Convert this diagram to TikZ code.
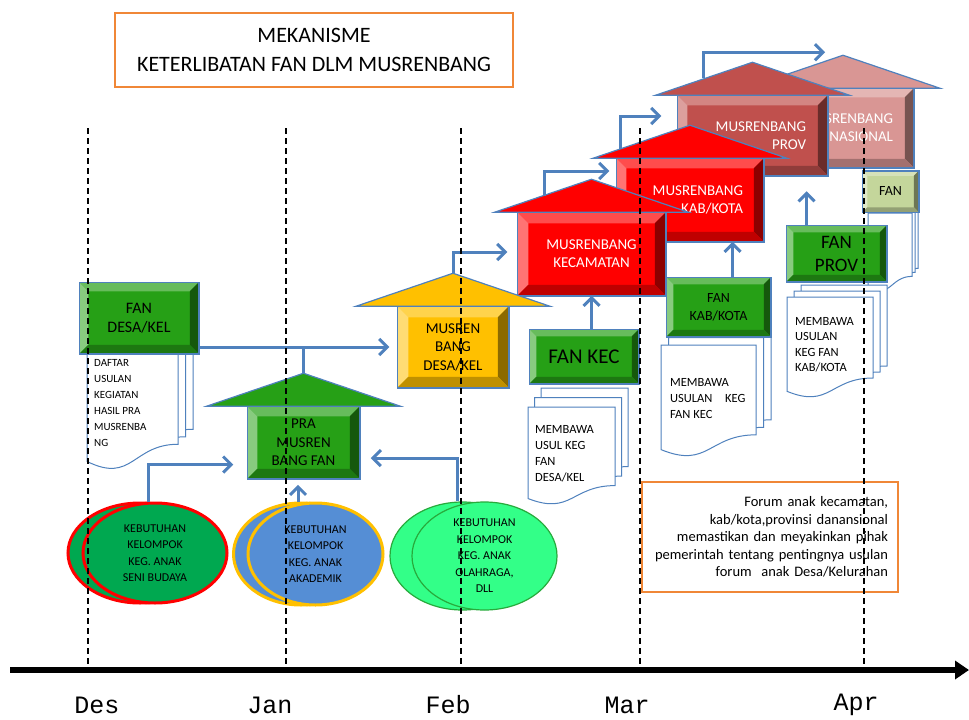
\documentclass[tikz,border=0pt]{standalone}
\usepackage{fontspec}
\setmainfont{Carlito}
\newfontfamily\monthfont{Liberation Mono}
\usetikzlibrary{calc,arrows.meta,shapes.geometric}
\definecolor{fangreen}{RGB}{38,160,22}
\definecolor{fanpale}{RGB}{196,214,155}
\definecolor{desagold}{RGB}{255,192,0}
\definecolor{kecred}{RGB}{255,0,0}
\definecolor{provred}{RGB}{192,80,77}
\definecolor{naspink}{RGB}{217,150,148}
\definecolor{edgeblue}{RGB}{79,129,189}
\definecolor{boxorange}{RGB}{240,135,55}
\definecolor{senigreen}{RGB}{0,168,80}
\definecolor{akadblue}{RGB}{85,142,213}
\definecolor{olahgreen}{RGB}{51,255,136}
\definecolor{olahedge}{RGB}{40,170,60}

\newcommand{\fsz}[2]{\fontsize{#1}{#2}\selectfont}
% bevel faces round a box node: node, colour, inset
\newcommand{\bevel}[3]{%
  \path (#1.north west) coordinate (o1) (#1.north east) coordinate (o2)
        (#1.south east) coordinate (o3) (#1.south west) coordinate (o4);
  \path ($(o1)+(#3,#3)$) coordinate (i1) ($(o2)+(-#3,#3)$) coordinate (i2)
        ($(o3)+(-#3,-#3)$) coordinate (i3) ($(o4)+(#3,-#3)$) coordinate (i4);
  \fill[#2!70!white] (o1) -- (o2) -- (i2) -- (i1) -- cycle;
  \fill[#2!55!white] (o1) -- (i1) -- (i4) -- (o4) -- cycle;
  \fill[#2!55!black] (o2) -- (o3) -- (i3) -- (i2) -- cycle;
  \fill[#2!75!black] (o4) -- (i4) -- (i3) -- (o3) -- cycle;
  \draw[edgeblue, line width=1.5pt] (o1) rectangle (o3);
}
% roof on a house body: node, colour, apex name
\newcommand{\roof}[3]{%
  \filldraw[fill=#2, draw=edgeblue, line width=1.2pt]
    ($(#1.north)+(-97,0)$) -- ($(#1.north)+(0,-33)$) coordinate (#3)
    -- ($(#1.north)+(97,0)$) -- cycle;
}
% one page: left, top, right, bottom
\newcommand{\docpage}[4]{%
  \filldraw[fill=white, draw=edgeblue, line width=1pt]
    ({#1},{#2}) -- ({#3},{#2}) -- ({#3},{(#2)+0.802*((#4)-(#2))})
    .. controls ({((#1)+(#3))/2},{(#2)+0.802*((#4)-(#2))}) and ({((#1)+(#3))/2},{(#2)+1.108*((#4)-(#2))})
    .. ({#1},{(#2)+0.934*((#4)-(#2))}) -- cycle;
}
% stack of three pages: left, top, right, bottom, dx, dy
\newcommand{\docs}[6]{%
  \docpage{#1+2*#5}{#2}{#3}{#4-2*#6}
  \docpage{#1+#5}{#2+#6}{#3-#5}{#4-#6}
  \docpage{#1}{#2+2*#6}{#3-2*#5}{#4}
}

\begin{document}
\begin{tikzpicture}[x=1pt, y=-1pt,
    house/.style={rectangle, draw=edgeblue, line width=1.5pt, inner sep=0pt, align=center, font=\fsz{15}{18}},
    fanbox/.style={rectangle, draw=edgeblue, line width=1.5pt, fill=fangreen, inner sep=0pt, align=center},
    doctext/.style={anchor=north west, inner sep=0pt, align=left, font=\fsz{12.5}{16}},
    wish/.style={ellipse, inner sep=0pt, align=center, font=\fsz{12}{16.5}},
    flow/.style={edgeblue, line width=3pt, -{Straight Barb[length=8pt,width=16pt]}},
    link/.style={edgeblue, line width=3pt},
    tline/.style={black, line width=1.5pt, dash pattern=on 6pt off 4pt},
    month/.style={font=\monthfont\fsz{25}{30}}]
  \useasboundingbox (0,0) rectangle (969,720);

  \node[draw=boxorange, line width=1.5pt, minimum width=398, minimum height=74,
        align=center, font=\fsz{22}{29}] (judul) at (314,50)
        {MEKANISME\\KETERLIBATAN FAN DLM MUSRENBANG};

  % houses, back to front
  \node[house, fill=naspink, text=white, minimum width=140, minimum height=78,
        text width=100, align=right] (nas) at (843,128) {MUSRENBANG\\NASIONAL};
  \bevel{nas}{naspink}{9}
  \roof{nas}{naspink}{nastop}

  \node[house, fill=provred, text=white, minimum width=149, minimum height=79,
        text width=107, align=right] (prov) at (752.5,135.5) {MUSRENBANG\\PROV};
  \bevel{prov}{provred}{10}
  \roof{prov}{provred}{provtop}

  \node[house, fill=kecred, text=white, minimum width=146, minimum height=82,
        text width=106, align=right] (kab) at (690,200) {MUSRENBANG\\KAB/KOTA};
  \bevel{kab}{kecred}{10}
  \roof{kab}{kecred}{kabtop}

  \node[house, fill=kecred, text=white, minimum width=147, minimum height=82] (kec) at (591.5,254) {MUSRENBANG\\KECAMATAN};
  \bevel{kec}{kecred}{11}
  \roof{kec}{kecred}{kectop}

  \node[house, fill=desagold, minimum width=110, minimum height=80, font=\fsz{15}{18.5}] (desa) at (453,347) {MUSREN\\BANG\\DESA/KEL};
  \bevel{desa}{desagold}{11}
  \roof{desa}{desagold}{desatop}

  \node[house, fill=fangreen, minimum width=111, minimum height=71, font=\fsz{15}{18.5}] (pra) at (303.5,442.5) {PRA\\MUSREN\\BANG FAN};
  \bevel{pra}{fangreen}{10}
  \roof{pra}{fangreen}{pratop}

  % papers
  \docs{868}{205}{918}{292}{3}{4}
  \docs{787}{285}{887}{398}{7}{6}
  \docs{661}{330}{771}{457}{7.5}{7.5}
  \docs{528}{388}{628}{505}{6.5}{9.5}
  \docs{87}{325}{193}{470}{7.5}{7.5}
  \node[doctext, font=\fsz{11}{16}] (desalist) at (94,359) {DAFTAR\\USULAN\\KEGIATAN\\HASIL PRA\\MUSRENBA\\NG};
  \node[doctext] (keclist) at (535,425) {MEMBAWA\\USUL KEG\\FAN\\DESA/KEL};
  \node[doctext] (kablist) at (670,378) {MEMBAWA\\USULAN\quad KEG\\FAN KEC};
  \node[doctext, font=\fsz{12.5}{15.5}] (provlist) at (795,317) {MEMBAWA\\USULAN\\KEG FAN\\KAB/KOTA};

  % forum boxes
  \node[fanbox, fill=fanpale, minimum width=55, minimum height=40, font=\fsz{14}{17}] (fannas) at (890.5,191.5) {FAN};
  \bevel{fannas}{fanpale}{5}
  \node[fanbox, minimum width=99, minimum height=55, font=\fsz{19}{23}] (fanprov) at (836.5,253.5) {FAN\\PROV};
  \bevel{fanprov}{fangreen}{7}
  \node[fanbox, minimum width=103, minimum height=58, font=\fsz{14}{18}] (fankab) at (718.5,307) {FAN\\KAB/KOTA};
  \bevel{fankab}{fangreen}{7}
  \node[fanbox, minimum width=108, minimum height=53, font=\fsz{21}{25}] (fankec) at (584,356.5) {FAN KEC};
  \bevel{fankec}{fangreen}{7}
  \node[fanbox, minimum width=118, minimum height=70, font=\fsz{16}{19}] (fandesa) at (139,318) {FAN\\DESA/KEL};
  \bevel{fandesa}{fangreen}{9}

  % needs of the children's groups
  \draw[fill=senigreen, draw=red, line width=3pt] (140,553) ellipse [x radius=72pt, y radius=50pt];
  \node[wish, fill=senigreen, draw=red, line width=3pt, minimum width=144, minimum height=100] (seni) at (155,553)
    {KEBUTUHAN\\KELOMPOK\\KEG. ANAK\\SENI BUDAYA};
  \draw[fill=akadblue, draw=desagold, line width=3pt] (301,554) ellipse [x radius=67.5pt, y radius=51pt];
  \node[wish, fill=akadblue, draw=desagold, line width=3pt, minimum width=135, minimum height=102] (akad) at (315.5,554)
    {KEBUTUHAN\\KELOMPOK\\KEG. ANAK\\AKADEMIK};
  \draw[fill=olahgreen, draw=olahedge, line width=1.2pt] (462.5,556) ellipse [x radius=72.5pt, y radius=54pt];
  \node[wish, fill=olahgreen, draw=olahedge, line width=1.2pt, minimum width=145, minimum height=108] (olah) at (484.5,556)
    {KEBUTUHAN\\KELOMPOK\\KEG. ANAK\\OLAHRAGA,\\DLL};

  % flows
  \draw[flow] (fandesa.east |- desa.west) -- ($(desa.west)+(-8,0)$);
  \draw[link] (pratop) -- (pratop |- desa.west);
  \draw[flow] ($(seni.north)+(-7,0)$) |- ($(pra.west)+(-14,22)$);
  \draw[flow] ($(akad.north)+(-17.5,0)$) -- ($(pra.south)+(-5.5,6)$);
  \draw[flow] ($(olah.north)+(-27.5,0)$) |- ($(pra.east)+(11,15.5)$);
  \draw[flow] (desatop) |- ($(kec.west)+(-10,-2)$);
  \draw[flow] ($(kec.north)+(-47,-16)$) |- ($(kab.west)+(-7,-29)$);
  \draw[flow] ($(kab.north)+(-70,-9)$) |- ($(prov.west)+(-16,-19.5)$);
  \draw[flow] ($(prov.north)+(-49.5,-17)$) |- ($(nas.north)+(-18,-36)$);
  \draw[flow] (kec.south |- fankec.north) -- (kec.south);
  \draw[flow] ([xshift=14pt]fankab.north) -- ([xshift=14pt]fankab.north |- kab.south);
  \draw[flow] ([xshift=-30pt]fanprov.north) -- ++(0,-34);

  \node[draw=boxorange, line width=1.5pt, minimum width=256, minimum height=110, text width=236,
        inner xsep=10pt, align=right, font=\fsz{14.5}{17.5}] (catatan) at (770,537)
    {Forum anak kecamatan,\\kab/kota,provinsi danansional\\memastikan dan meyakinkan pihak\\pemerintah tentang pentingnya usulan\\forum\ \ anak Desa/Kelurahan};

  % timeline
  \foreach \x in {88,286,461,640,864} \draw[tline] (\x,128) -- (\x,670);
  \draw[line width=6pt, -{Triangle[length=14pt,width=18pt]}] (10,670) -- (969,670);
  \node[month] (des) at (97,705) {Des};
  \node[month] (jan) at (270,705) {Jan};
  \node[month] (feb) at (448,705) {Feb};
  \node[month] (mar) at (627,705) {Mar};
  \node[month] (apr) at (856,705) {Apr};
\end{tikzpicture}
\end{document}
